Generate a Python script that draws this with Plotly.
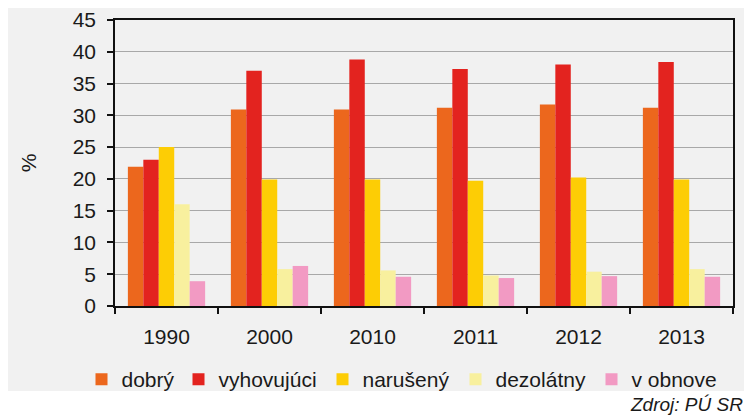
import plotly.graph_objects as go

years = ["1990", "2000", "2010", "2011", "2012", "2013"]
series_names = ["dobrý", "vyhovujúci", "narušený", "dezolátny", "v obnove"]
dobry = [21.9, 30.9, 30.9, 31.2, 31.7, 31.2]
vyhovujuci = [23.0, 37.0, 38.8, 37.3, 38.0, 38.4]
naruseny = [25.0, 19.9, 19.9, 19.7, 20.2, 19.9]
dezolatny = [16.0, 5.8, 5.6, 4.8, 5.4, 5.8]
v_obnove = [3.9, 6.3, 4.6, 4.4, 4.7, 4.6]
values = [dobry, vyhovujuci, naruseny, dezolatny, v_obnove]
colors = ["#EC671D", "#E3231F", "#FDCD05", "#F8F09E", "#F29AC3"]

# page has an 8px body margin; figure sits at (8, 8)
OFF = 8
W, H = 744, 408
ML, MR, MT, MB = 115 - OFF, 19, 20 - OFF, 110
PW, PH = W - ML - MR, H - MT - MB

def px_x(p):
    return (p - OFF - ML) / PW

def px_y(p):
    return (H - MB - (p - OFF)) / PH

FONT = "Liberation Sans, Arial, Helvetica, sans-serif"
FS = 21

fig = go.Figure()
legend_names = ["legend", "legend2", "legend3", "legend4", "legend5"]
for name, vals, col, lg in zip(series_names, values, colors, legend_names):
    fig.add_trace(go.Bar(x=years, y=vals, name=name, marker_color=col,
                         marker_line_width=0, legend=lg))

# legend square centers (page pixels)
sq_centers = [104.5, 201.5, 345.5, 478.5, 614.5]
legend_layout = {}
for lg, c in zip(legend_names, sq_centers):
    legend_layout[lg] = dict(
        x=px_x(c - 20 - 3), xanchor="left",
        y=px_y(379.5), yanchor="middle",
        orientation="h", bgcolor="rgba(0,0,0,0)", borderwidth=0,
        font=dict(family=FONT, size=FS, color="#1a1a1a"),
    )

fig.update_layout(
    width=W, height=H,
    margin=dict(l=ML, r=MR, t=MT, b=MB, autoexpand=False),
    paper_bgcolor="white", plot_bgcolor="#F1F1F1",
    barmode="group", bargap=0.25, bargroupgap=0,
    font=dict(family=FONT, size=FS, color="#1a1a1a"),
    showlegend=True,
    **legend_layout,
    xaxis=dict(
        type="category", showgrid=False, showline=True, mirror=True,
        linecolor="#111111", linewidth=1.5, ticks="outside", tickson="boundaries",
        ticklen=6, tickcolor="#111111", tickwidth=1.5,
        tickfont=dict(family=FONT, size=FS, color="#1a1a1a"),
        ticklabelstandoff=11,
    ),
    yaxis=dict(
        range=[0, 45], dtick=5, showgrid=True, gridcolor="#A8A8A8", gridwidth=1,
        zeroline=False, showline=True, mirror=True, linecolor="#111111", linewidth=1.5,
        ticks="outside", ticklen=6, tickcolor="#111111", tickwidth=1.5,
        tickfont=dict(family=FONT, size=FS, color="#1a1a1a"),
        ticklabelstandoff=7, ticklabeloverflow="allow",
        title=dict(text="%", font=dict(family=FONT, size=FS, color="#1a1a1a"), standoff=30),
    ),
    shapes=[dict(type="rect", xref="paper", yref="paper",
                 x0=px_x(8), x1=px_x(745), y0=px_y(391), y1=px_y(7),
                 fillcolor="#F1F1F1", line_width=0, layer="below")],
    annotations=[dict(text="<i>Zdroj: PÚ SR</i>", xref="paper", yref="paper",
                      x=px_x(745), y=px_y(404), xanchor="right", yanchor="middle",
                      showarrow=False,
                      font=dict(family=FONT, size=19, color="#1a1a1a"))],
)

fig.write_html("out.html")
